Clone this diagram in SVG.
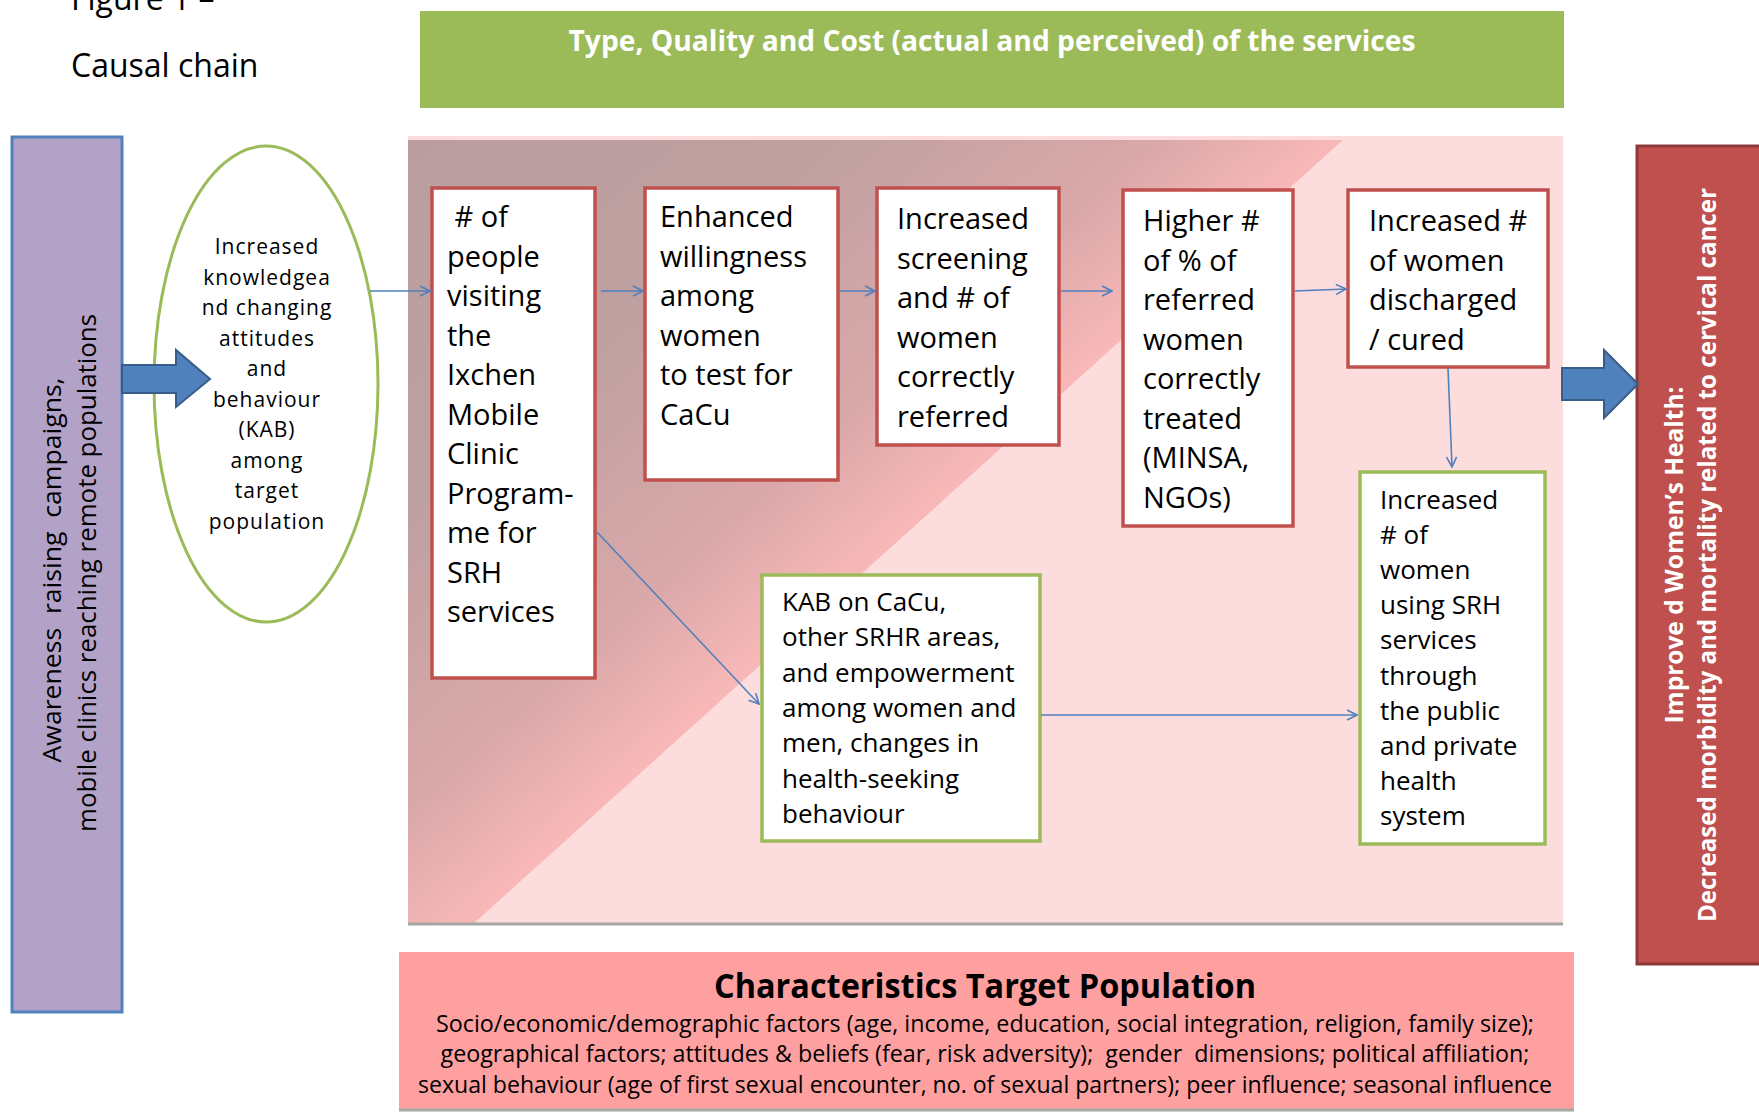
<svg xmlns="http://www.w3.org/2000/svg" width="1759" height="1112" viewBox="0 0 1759 1112">
  <defs>
    <style>
      .t { font-family: "Open Sans", "Liberation Sans", sans-serif; fill: #000; }
      .red { fill: #ffffff; stroke: #c0504d; stroke-width: 3.5; }
      .grn { fill: #ffffff; stroke: #9bbb59; stroke-width: 3.5; }
      .b29 { font-size: 29px; }
      .b26 { font-size: 26px; }
      .ell { font-size: 21px; letter-spacing: 1px; text-anchor: middle; }
      .link { fill: none; stroke: #4f81bd; stroke-width: 1.6; marker-end: url(#open); }
      .block { fill: #4f81bd; stroke: #385d8a; stroke-width: 2; }
    </style>
    <marker id="open" viewBox="0 0 12 12" refX="11" refY="6" markerWidth="12" markerHeight="12" markerUnits="userSpaceOnUse" orient="auto">
      <path d="M1,1 L11,6 L1,11" fill="none" stroke="#4f81bd" stroke-width="1.6"/>
    </marker>
    <linearGradient id="wedge" gradientUnits="userSpaceOnUse" x1="408" y1="136" x2="828" y2="603">
      <stop offset="0" stop-color="#ba9e9f"/>
      <stop offset="0.45" stop-color="#bfa0a1"/>
      <stop offset="0.8" stop-color="#daa8a9"/>
      <stop offset="1" stop-color="#f9b8b8"/>
    </linearGradient>
  </defs>

  <!-- heading -->
  <g id="heading">
    <text class="t" x="71" y="10" font-size="32">Figure 1 –</text>
    <text class="t" x="71" y="77" font-size="32">Causal chain</text>
  </g>

  <!-- services banner -->
  <g id="services">
    <rect x="420" y="11" width="1144" height="97" fill="#9bbb59"/>
    <text class="t" x="992" y="51" font-size="28" font-weight="bold" style="fill:#ffffff" text-anchor="middle" textLength="847" lengthAdjust="spacingAndGlyphs">Type, Quality and Cost (actual and perceived) of the services</text>
  </g>

  <!-- programme area background -->
  <g id="area">
    <rect x="408" y="136" width="1155" height="788" fill="#fddcdd"/>
    <polygon points="408,140 1343,140 473,924 408,924" fill="url(#wedge)"/>
    <line x1="408" y1="924" x2="1563" y2="924" stroke="#a6a6a6" stroke-width="3"/>
  </g>

  <!-- awareness input -->
  <g id="awareness">
    <rect x="12" y="137" width="110" height="875" fill="#b3a2c7" stroke="#4f81bd" stroke-width="3"/>
    <text class="t" font-size="26" xml:space="preserve" text-anchor="middle" transform="translate(61,570) rotate(-90)" textLength="385" lengthAdjust="spacingAndGlyphs">Awareness  raising  campaigns,</text>
    <text class="t" font-size="26" text-anchor="middle" transform="translate(96,573) rotate(-90)" textLength="518" lengthAdjust="spacingAndGlyphs">mobile clinics reaching remote populations</text>
  </g>

  <!-- knowledge ellipse -->
  <g id="kab-ellipse">
    <ellipse cx="266" cy="384" rx="112" ry="238" fill="#ffffff" stroke="#9bbb59" stroke-width="3"/>
    <text class="t ell" x="267" y="254">Increased</text>
    <text class="t ell" x="267" y="284.5">knowledgea</text>
    <text class="t ell" x="267" y="315">nd changing</text>
    <text class="t ell" x="267" y="345.5">attitudes</text>
    <text class="t ell" x="267" y="376">and</text>
    <text class="t ell" x="267" y="406.5">behaviour</text>
    <text class="t ell" x="267" y="437">(KAB)</text>
    <text class="t ell" x="267" y="467.5">among</text>
    <text class="t ell" x="267" y="498">target</text>
    <text class="t ell" x="267" y="528.5">population</text>
  </g>

  <!-- outcome chain -->
  <g id="visits">
    <rect class="red" x="432" y="188" width="163" height="490"/>
    <text class="t b29" x="447" y="227" xml:space="preserve"> # of</text>
    <text class="t b29" x="447" y="266.5">people</text>
    <text class="t b29" x="447" y="306">visiting</text>
    <text class="t b29" x="447" y="345.5">the</text>
    <text class="t b29" x="447" y="385">Ixchen</text>
    <text class="t b29" x="447" y="424.5">Mobile</text>
    <text class="t b29" x="447" y="464">Clinic</text>
    <text class="t b29" x="447" y="503.5">Program-</text>
    <text class="t b29" x="447" y="543">me for</text>
    <text class="t b29" x="447" y="582.5">SRH</text>
    <text class="t b29" x="447" y="622">services</text>
  </g>

  <g id="willingness">
    <rect class="red" x="645" y="188" width="193" height="292"/>
    <text class="t b29" x="660" y="227">Enhanced</text>
    <text class="t b29" x="660" y="266.5">willingness</text>
    <text class="t b29" x="660" y="306">among</text>
    <text class="t b29" x="660" y="345.5">women</text>
    <text class="t b29" x="660" y="385">to test for</text>
    <text class="t b29" x="660" y="424.5">CaCu</text>
  </g>

  <g id="screening">
    <rect class="red" x="877" y="188" width="182" height="257"/>
    <text class="t b29" x="897" y="229">Increased</text>
    <text class="t b29" x="897" y="268.5">screening</text>
    <text class="t b29" x="897" y="308">and # of</text>
    <text class="t b29" x="897" y="347.5">women</text>
    <text class="t b29" x="897" y="387">correctly</text>
    <text class="t b29" x="897" y="426.5">referred</text>
  </g>

  <g id="treated">
    <rect class="red" x="1123" y="190" width="170" height="336"/>
    <text class="t b29" x="1143" y="231">Higher #</text>
    <text class="t b29" x="1143" y="270.5">of % of</text>
    <text class="t b29" x="1143" y="310">referred</text>
    <text class="t b29" x="1143" y="349.5">women</text>
    <text class="t b29" x="1143" y="389">correctly</text>
    <text class="t b29" x="1143" y="428.5">treated</text>
    <text class="t b29" x="1143" y="468">(MINSA,</text>
    <text class="t b29" x="1143" y="507.5">NGOs)</text>
  </g>

  <g id="cured">
    <rect class="red" x="1348" y="190" width="200" height="177"/>
    <text class="t b29" x="1369" y="231">Increased #</text>
    <text class="t b29" x="1369" y="270.5">of women</text>
    <text class="t b29" x="1369" y="310">discharged</text>
    <text class="t b29" x="1369" y="349.5">/ cured</text>
  </g>

  <g id="kab-women-men">
    <rect class="grn" x="762" y="575" width="278" height="266"/>
    <text class="t b26" x="782" y="611">KAB on CaCu,</text>
    <text class="t b26" x="782" y="646.3">other SRHR areas,</text>
    <text class="t b26" x="782" y="681.6">and empowerment</text>
    <text class="t b26" x="782" y="716.9">among women and</text>
    <text class="t b26" x="782" y="752.2">men, changes in</text>
    <text class="t b26" x="782" y="787.5">health-seeking</text>
    <text class="t b26" x="782" y="822.8">behaviour</text>
  </g>

  <g id="srh-use">
    <rect class="grn" x="1360" y="472" width="185" height="372"/>
    <text class="t b26" x="1380" y="509">Increased</text>
    <text class="t b26" x="1380" y="544.1"># of</text>
    <text class="t b26" x="1380" y="579.2">women</text>
    <text class="t b26" x="1380" y="614.3">using SRH</text>
    <text class="t b26" x="1380" y="649.4">services</text>
    <text class="t b26" x="1380" y="684.5">through</text>
    <text class="t b26" x="1380" y="719.6">the public</text>
    <text class="t b26" x="1380" y="754.7">and private</text>
    <text class="t b26" x="1380" y="789.8">health</text>
    <text class="t b26" x="1380" y="824.9">system</text>
  </g>

  <!-- impact -->
  <g id="impact">
    <rect x="1637" y="146" width="130" height="818" fill="#c0504d" stroke="#8c3a38" stroke-width="3"/>
    <text class="t" font-size="25" font-weight="bold" style="fill:#ffffff" text-anchor="middle" transform="translate(1683,555) rotate(-90)" textLength="337" lengthAdjust="spacingAndGlyphs">Improve d Women’s Health:</text>
    <text class="t" font-size="25" font-weight="bold" style="fill:#ffffff" text-anchor="middle" transform="translate(1716,555) rotate(-90)" textLength="734" lengthAdjust="spacingAndGlyphs">Decreased morbidity and mortality related to cervical cancer</text>
  </g>

  <!-- target population -->
  <g id="target-population">
    <rect x="399" y="952" width="1175" height="158" fill="#fea0a0"/>
    <line x1="399" y1="1110" x2="1574" y2="1110" stroke="#a6a6a6" stroke-width="3"/>
    <text class="t" x="985" y="998" font-size="34" font-weight="bold" text-anchor="middle" textLength="542" lengthAdjust="spacingAndGlyphs">Characteristics Target Population</text>
    <text class="t" x="985" y="1032" font-size="23" text-anchor="middle" textLength="1098" lengthAdjust="spacingAndGlyphs">Socio/economic/demographic factors (age, income, education, social integration, religion, family size);</text>
    <text class="t" x="985" y="1062" font-size="23" text-anchor="middle" xml:space="preserve" textLength="1089" lengthAdjust="spacingAndGlyphs">geographical factors; attitudes &amp; beliefs (fear, risk adversity);  gender  dimensions; political affiliation;</text>
    <text class="t" x="985" y="1093" font-size="23" text-anchor="middle" textLength="1134" lengthAdjust="spacingAndGlyphs">sexual behaviour (age of first sexual encounter, no. of sexual partners); peer influence; seasonal influence</text>
  </g>

  <!-- connectors -->
  <g id="connectors">
    <path class="block" d="M122,365 L176,365 L176,350 L210,379 L176,407 L176,393 L122,393 Z"/>
    <path class="block" d="M1562,368 L1604,368 L1604,350 L1638,384 L1604,418 L1604,400 L1562,400 Z"/>
    <line class="link" x1="370" y1="291" x2="430" y2="291"/>
    <line class="link" x1="601" y1="291" x2="643" y2="291"/>
    <line class="link" x1="840" y1="291" x2="875" y2="291"/>
    <line class="link" x1="1061" y1="291" x2="1112" y2="291"/>
    <line class="link" x1="1295" y1="291" x2="1346" y2="289"/>
    <line class="link" x1="1448" y1="368" x2="1452" y2="467"/>
    <line class="link" x1="597" y1="532" x2="759" y2="704"/>
    <line class="link" x1="1041" y1="715" x2="1357" y2="715"/>
  </g>
</svg>
